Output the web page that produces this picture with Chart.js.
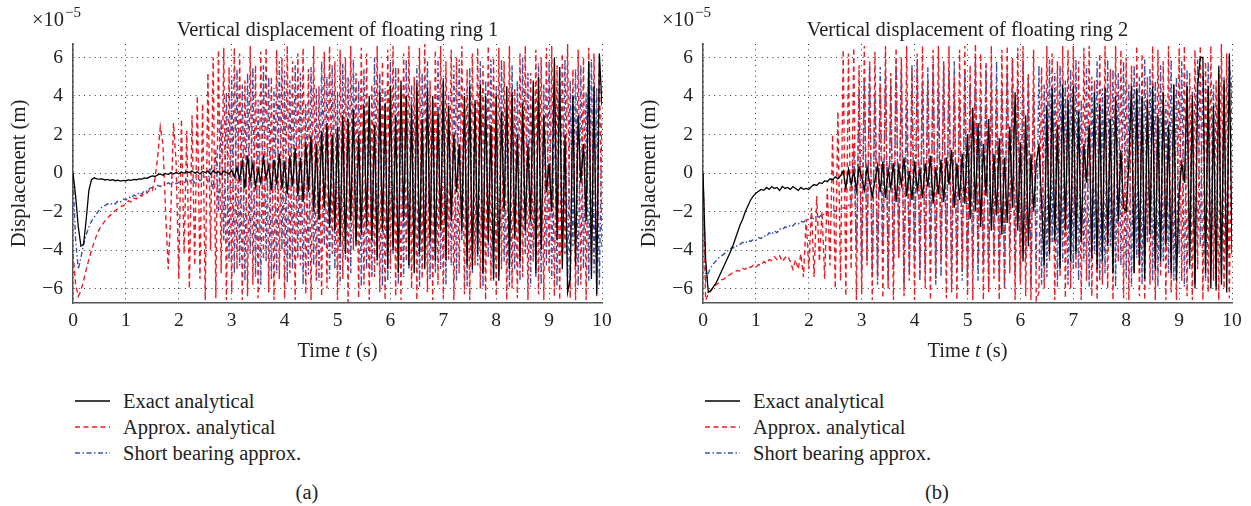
<!DOCTYPE html>
<html>
<head>
<meta charset="utf-8">
<script src="https://cdn.jsdelivr.net/npm/chart.js@4.4.0/dist/chart.umd.min.js"></script>
<style>
  body { margin: 0; background: #fff; }
  #page { position: relative; width: 1251px; height: 506px; overflow: hidden; font-family: "Liberation Serif", serif; color: #222; }
  canvas { position: absolute; top: 0; }
  .legend-row { position: absolute; height: 24px; line-height: 24px; font-size: 20.5px; white-space: nowrap; }
  .legend-row svg { position: absolute; left: 0; top: 0; }
  .legend-row span { position: absolute; left: 48px; top: 0; }
  .caption { position: absolute; font-size: 20.5px; line-height: 24px; transform: translateX(-50%); }
</style>
</head>
<body>
<div id="page">
  <canvas id="ring1" width="625" height="370" style="left:0px"></canvas>
  <canvas id="ring2" width="621" height="370" style="left:630px"></canvas>
</div>
<script>
// sampling step of the series (s)
const T_STEP = 0.05;
const xTicks = [0, 1, 2, 3, 4, 5, 6, 7, 8, 9, 10];
const yTicks = [-6, -4, -2, 0, 2, 4, 6];
const seriesNames = ["Exact analytical", "Approx. analytical", "Short bearing approx."];
const titles = ["Vertical displacement of floating ring 1", "Vertical displacement of floating ring 2"];
const captions = ["(a)", "(b)"];

// ring 1 (values x 1e-5 m), one row per second
const exact1 = [
  0, -1.2, -2.8, -3.8, -3.7, -2.4, -0.9, -0.35, -0.25, -0.3, -0.32, -0.3, -0.36, -0.33, -0.38, -0.35, -0.4, -0.37, -0.42, -0.38,
  -0.4, -0.36, -0.38, -0.33, -0.35, -0.3, -0.32, -0.26, -0.28, -0.2, -0.15, -0.18, -0.1, -0.05, -0.12, -0.02, -0.08, 0.02, -0.05, 0.03,
  -0.04, 0.05, 0, 0.08, 0.02, 0.1, 0, 0.06, -0.05, 0.08, 0.02, 0.1, -0.06, 0.12, 0, 0.08, -0.08, 0.1, 0.03, -0.05,
  0.15, -0.2, 0.3, -0.35, 0.6, -0.8, 0.9, -0.4, 0.5, -0.7, 0.2, -0.5, 0.8, -0.3, 0.4, -0.9, 0.7, -0.6, 1.0, -0.8,
  0.6, -1.1, 0.9, -0.7, 1.3, -1.2, 0.8, -1.5, 1.6, -1.0, 1.9, -2.0, 1.5, -2.4, 2.2, -1.8, 2.6, -2.8, 2.0, -3.0,
  2.4, -3.6, 3.0, -4.2, 2.8, -2.5, 3.3, -3.8, 2.0, -3.2, 3.5, -2.8, 4.0, -3.5, 2.5, -4.5, 4.2, -3.0, 3.6, -5.0,
  4.5, -4.0, 3.0, -5.2, 4.8, -2.5, 4.0, -4.8, 3.5, -5.2, 4.6, -4.2, 2.8, -5.0, 4.4, -3.6, 4.0, -4.6, 3.2, -3.0,
  4.8, -4.5, 3.5, -2.5, 2.0, -1.0, 1.5, -3.0, 4.0, -4.8, 4.5, -5.0, 3.8, -4.2, 4.6, -5.2, 4.0, -3.6, 2.5, -5.5,
  4.0, -5.6, 3.2, -2.0, 4.5, -5.0, 4.2, -3.4, 2.0, -4.6, 3.6, -3.0, 1.5, -2.5, 4.8, -5.2, 5.0, -4.0, 3.0, -1.0,
  0.5, -2.0, 6.0, -3.5, 5.5, -5.0, 2.0, -6.2, -5.5, 4.0, -4.8, 3.0, -0.5, 1.5, -2.5, 5.8, -5.5, 4.5, -6.3, 6.2,
  3.5
];
const approx1 = [
  -4.2, -5.8, -6.4, -6.1, -5.6, -5.0, -4.5, -4.0, -3.6, -3.2, -2.9, -2.7, -2.5, -2.35, -2.2, -2.1, -1.95, -1.85, -1.75, -1.7,
  -1.6, -1.45, -1.5, -1.3, -1.35, -1.15, -1.2, -1.0, -1.05, -0.85, -0.9, -0.3, 0.8, 2.4, 1.5, -2.0, -5.0, -2.0, 2.6, 0.5,
  -5.5, 2.8, -4.2, 2.2, -6.0, 3.0, -4.8, 4.0, -5.5, 3.6, -6.6, 5.2, -4.0, 6.0, -6.5, 6.4, -5.2, 6.5, -6.6, 5.5,
  -6.2, 6.5, -5.0, 6.2, -6.6, 4.8, -6.4, 6.6, -5.8, 5.6, -6.5, 6.3, -4.5, 6.5, -6.2, 5.0, -6.6, 6.4, -5.5, 6.0,
  -6.5, 6.6, -5.2, 5.8, -6.6, 6.2, -4.8, 6.5, -6.3, 5.4, -6.6, 6.6, -5.6, 4.5, -6.4, 6.3, -6.0, 6.6, -4.2, 5.8,
  -6.6, 6.4, -5.5, 6.0, -6.7, 6.6, -4.0, 5.2, -6.5, 6.5, -5.8, 6.2, -6.6, 4.6, -5.4, 6.6, -6.2, 5.8, -6.6, 6.4,
  -5.0, 6.6, -6.4, 5.5, -6.6, 6.2, -4.6, 6.6, -6.0, 5.0, -6.6, 6.5, -5.5, 6.7, -6.2, 4.8, -6.6, 6.4, -5.8, 6.6,
  -6.5, 5.8, -4.5, 6.4, -6.6, 6.0, -5.2, 6.6, -6.3, 5.4, -6.6, 6.2, -4.8, 6.5, -6.0, 5.6, -6.6, 6.6, -5.6, 6.0,
  -6.4, 6.5, -5.0, 5.8, -6.6, 6.6, -6.0, 4.4, -6.5, 6.2, -5.4, 6.6, -6.6, 5.2, -4.6, 6.4, -6.3, 6.0, -6.6, 6.5,
  -5.2, 6.6, -6.4, 5.6, -6.6, 6.2, -4.2, 6.7, -6.5, 5.4, -6.6, 6.4, -5.8, 6.0, -6.6, 6.5, -5.0, 6.2, -6.4, 5.8,
  -4.0
];
const short1 = [
  -0.3, -3.5, -5.0, -4.4, -3.7, -3.2, -2.8, -2.5, -2.3, -2.1, -1.9, -1.75, -1.7, -1.6, -1.65, -1.55, -1.6, -1.45, -1.5, -1.35,
  -1.4, -1.25, -1.3, -1.15, -1.2, -1.0, -1.1, -0.9, -0.95, -0.8, -0.75, -0.85, -0.65, -0.7, -0.6, -0.65, -0.5, -0.6, -0.45, -0.55,
  -0.5, -0.4, -0.55, -0.35, -0.45, -0.3, -0.5, -0.25, -0.4, -0.3, -0.2, -0.45, 0.3, -0.9, 1.2, -2.0, 2.8, -3.5, 4.2, -4.6,
  5.0, -5.2, 5.4, -4.8, 4.6, -5.6, 5.2, -4.2, 5.5, -5.4, 3.8, -5.8, 5.6, -4.6, 5.0, -5.5, 4.4, -5.2, 5.8, -4.0,
  5.3, -5.7, 4.8, -5.0, 5.6, -4.4, 5.2, -5.8, 3.6, -5.3, 5.5, -4.8, 4.4, -5.6, 5.8, -3.8, 5.0, -5.5, 5.6, -5.0,
  4.2, -5.8, 5.7, -4.5, 5.0, -5.2, 5.9, -3.6, 4.8, -5.9, 5.4, -5.0, 3.5, -5.4, 6.0, -4.8, 5.2, -5.9, 4.4, -5.6,
  5.8, -4.2, 5.5, -5.8, 4.0, -5.4, 5.9, -5.0, 4.6, -3.8, 5.6, -5.9, 5.2, -4.6, 5.8, -5.5, 3.8, -5.2, 6.0, -5.0,
  5.0, -5.8, 4.2, -4.8, 5.6, -5.6, 5.9, -3.5, 4.4, -5.9, 5.5, -5.2, 3.6, -4.8, 5.8, -5.9, 4.8, -4.4, 5.9, -5.6,
  4.5, -5.3, 5.9, -4.6, 3.4, -5.9, 5.6, -5.0, 4.8, -5.6, 6.0, -4.2, 5.2, -5.9, 4.0, -5.4, 5.7, -5.8, 4.6, -4.8,
  5.8, -5.5, 3.8, -5.9, 5.5, -4.4, 5.9, -5.8, 4.8, -3.8, 5.4, -5.9, 5.6, -5.0, 4.2, -5.6, 5.9, -5.2, 4.4, -5.8,
  3.0
];

// ring 2 (values x 1e-5 m)
const exact2 = [
  0, -4.5, -6.2, -6.1, -5.9, -5.7, -5.4, -5.1, -4.8, -4.5, -4.2, -3.9, -3.5, -3.1, -2.7, -2.4, -2.0, -1.7, -1.4, -1.2,
  -1.05, -0.95, -0.85, -0.9, -0.75, -0.85, -0.7, -0.8, -0.75, -0.9, -0.7, -0.8, -0.75, -0.85, -0.7, -0.8, -0.9, -0.75, -0.85, -0.8,
  -0.85, -0.7, -0.6, -0.65, -0.5, -0.55, -0.4, -0.45, -0.3, -0.35, -0.2, -0.3, -0.15, 0.1, -0.8, 0.2, -0.6, 0.1, -0.9, 0.3,
  -0.2, -0.9, 0.3, -0.5, -1.2, -0.4, 0.4, -1.0, 0.6, -1.3, 0.2, -0.8, 0.5, -1.5, 0.3, -0.6, 0.8, -1.2, 0.1, -1.4,
  0.6, -0.9, 0.2, -1.3, 0.5, -0.7, 0.9, -1.6, 0.3, -1.1, 0.7, -1.5, 0.8, -0.6, 1.2, -1.8, 0.5, -1.4, 1.0, -1.6,
  2.0, -2.4, 3.4, -2.0, 2.6, -2.8, 1.5, -1.2, 2.8, -3.0, 1.0, -2.2, 1.8, -3.2, 0.8, -2.6, 2.4, -1.8, 4.2, -3.0,
  1.6, -4.6, 3.0, -3.8, 1.0, -2.0, 0.5, 1.5, -1.5, -4.8, 3.5, -4.2, 4.4, -3.5, 2.5, -5.0, 4.6, -3.0, 3.8, -4.6,
  4.5, -4.2, 3.2, -3.6, 1.5, -0.5, 2.5, -4.4, 4.2, -5.0, 3.6, -4.6, 4.4, -3.8, 2.8, -5.2, 4.0, -2.5, 1.2, -1.8,
  -2.0, 0.5, 4.5, -5.2, 4.4, -4.8, 4.0, -5.5, 3.8, -3.2, 4.5, -5.0, 3.0, -4.6, 4.2, -3.8, 2.5, -5.2, 4.6, -5.6,
  -1.0, 0.5, -0.5, 4.5, -4.8, 4.0, -6.0, 4.5, 6.0, 6.0, -5.2, 4.5, -6.0, 3.5, -6.1, 5.5, -5.8, 4.8, -6.2, 6.2,
  -4.2
];
const approx2 = [
  0, -6.6, -6.3, -6.1, -5.9, -5.8, -5.7, -5.55, -5.5, -5.35, -5.3, -5.2, -5.15, -5.05, -5.1, -4.95, -5.0, -4.85, -4.9, -4.8,
  -4.9, -4.75, -4.8, -4.6, -4.7, -4.5, -4.55, -4.35, -4.5, -4.3, -4.6, -4.4, -4.3, -4.6, -5.0, -4.5, -5.0, -4.2, -5.4, -2.4,
  -5.0, -1.8, -5.4, -1.2, -4.6, -2.0, -5.5, -0.8, -4.8, 2.0, -6.0, 3.2, -5.6, 6.4, -6.4, 6.2, -5.0, 6.5, -6.6, 5.6,
  -6.3, 6.6, -4.8, 5.8, -6.6, 6.3, -5.4, 4.6, -6.5, 6.6, -6.0, 5.2, -6.6, 6.5, -4.4, 6.0, -6.4, 6.6, -5.6, 5.4,
  -6.6, 6.2, -5.2, 6.6, -6.0, 4.8, -6.6, 6.4, -5.5, 6.6, -4.6, 5.8, -6.5, 6.6, -6.2, 5.0, -6.6, 6.4, -5.0, 6.6,
  -6.4, 5.6, -6.6, 6.7, -4.8, 6.2, -6.6, 5.8, -6.2, 6.6, -5.5, 4.4, -6.6, 6.4, -6.0, 6.6, -5.2, 6.0, -6.6, 6.5,
  -5.8, 6.6, -6.4, 5.2, -6.6, 6.4, -6.6, -6.2, 5.5, -6.0, 6.6, -4.6, 6.2, -6.6, 5.8, -5.4, 6.6, -6.5, 6.4, -6.0,
  6.6, -5.0, 5.8, -6.6, 6.5, -5.6, 6.6, -6.4, 4.8, -6.6, 6.2, -5.8, 6.6, -6.0, 5.4, -6.6, 6.6, -4.6, 6.4, -6.5,
  6.0, -6.6, 5.6, -5.2, 6.6, -6.4, 6.2, -6.6, 5.0, -5.8, 6.6, -6.6, 6.4, -5.4, 5.8, -6.6, 6.6, -6.2, 4.6, -6.6,
  6.5, -5.6, 6.6, -6.4, 5.2, -6.6, 6.4, -5.0, 6.6, -6.6, 5.8, -6.2, 6.6, -5.6, 4.8, -6.6, 6.7, -6.0, 6.2, -6.5,
  5.0
];
const short2 = [
  0, -5.6, -5.2, -4.9, -4.7, -4.55, -4.4, -4.3, -4.2, -4.05, -4.0, -3.85, -3.9, -3.75, -3.7, -3.6, -3.65, -3.5, -3.55, -3.45,
  -3.5, -3.35, -3.4, -3.25, -3.3, -3.1, -3.2, -3.0, -3.1, -2.9, -2.95, -2.8, -2.85, -2.7, -2.75, -2.6, -2.65, -2.5, -2.55, -2.4,
  -2.45, -2.3, -2.4, -2.2, -2.3, -2.1, -2.2, -2.0, -2.1, -1.9, -2.0, -1.85, -1.9, -1.8, -1.85, -1.7, -1.5, 1.5, -4.0, 4.2,
  -5.2, 5.0, -4.6, 5.6, -5.4, 4.2, -5.8, 5.5, -3.8, 5.2, -5.6, 4.6, -5.0, 5.8, -4.4, 5.4, -5.8, 3.6, -5.2, 5.6,
  -4.6, 5.8, -5.6, 4.8, -5.0, 5.5, -3.8, 5.8, -5.8, 4.4, -5.4, 5.6, -4.2, 5.2, -5.9, 5.8, -4.8, 3.8, -5.6, 5.4,
  -5.8, 4.6, -5.0, 5.9, -5.6, 3.6, -4.8, 5.6, -5.9, 5.2, -4.2, 5.8, -5.4, 4.4, -5.9, 5.5, -3.8, 5.9, -5.2, 4.8,
  -5.6, 5.8, -4.4, 5.0, -5.9, 4.2, -5.0, 5.6, -5.8, 4.6, -5.4, 5.9, -3.6, 5.2, -5.9, 5.6, -4.6, 4.8, -5.8, 5.4,
  -5.0, 5.9, -5.6, 3.8, -4.6, 5.6, -5.9, 5.0, -4.2, 5.8, -5.6, 4.4, -5.2, 5.9, -3.8, 5.4, -5.9, 5.2, -4.8, 5.8,
  -5.4, 4.6, -5.9, 5.6, -4.4, 5.0, -5.8, 5.9, -3.6, 5.4, -5.6, 4.8, -5.9, 5.6, -4.6, 3.8, -5.2, 5.9, -5.6, 5.0,
  -4.2, 5.8, -5.9, 5.4, -5.0, 4.4, -5.8, 5.9, -3.8, 5.2, -5.6, 5.8, -4.8, 4.6, -5.9, 5.6, -5.4, 5.0, -4.4, 5.9,
  3.5
];

const FONT = '"Liberation Serif", "Times New Roman", serif';
const lineColors = ["#000000", "#ec1c24", "#3b52a8"];
const lineWidths = [1.3, 1.4, 1.4];
const lineDashes = [[], [5, 3.5], [5, 2.5, 1.5, 2.5]];

function toPoints(values) {
  return values.map((v, i) => ({ x: +(i * T_STEP).toFixed(2), y: v }));
}

const decorPlugin = {
  id: "decor",
  afterDraw(chart, args, opts) {
    const { ctx, chartArea } = chart;
    const cx = (chartArea.left + chartArea.right) / 2;
    ctx.save();
    ctx.fillStyle = "#222";
    // title
    ctx.font = "20.5px " + FONT;
    ctx.textAlign = "center";
    ctx.textBaseline = "alphabetic";
    ctx.fillText(opts.title, cx, 36);
    // exponent
    ctx.textAlign = "left";
    ctx.font = "20.5px " + FONT;
    ctx.fillText("\u00d710", chartArea.left - 41, 26);
    const w = ctx.measureText("\u00d710").width;
    ctx.font = "15px " + FONT;
    ctx.fillText("\u22125", chartArea.left - 41 + w + 1, 17);
    // x title with italic t
    ctx.font = "20.5px " + FONT;
    const a = "Time ", b = "t", c = " (s)";
    const wa = ctx.measureText(a).width, wc = ctx.measureText(c).width;
    ctx.font = "italic 20.5px " + FONT;
    const wb = ctx.measureText(b).width;
    const x0 = cx - (wa + wb + wc) / 2;
    const yb = 357;
    ctx.font = "20.5px " + FONT;
    ctx.fillText(a, x0, yb);
    ctx.font = "italic 20.5px " + FONT;
    ctx.fillText(b, x0 + wa, yb);
    ctx.font = "20.5px " + FONT;
    ctx.fillText(c, x0 + wa + wb, yb);
    // y title
    ctx.translate(chartArea.left - 53, (chartArea.top + chartArea.bottom) / 2);
    ctx.rotate(-Math.PI / 2);
    ctx.textAlign = "center";
    ctx.textBaseline = "middle";
    ctx.fillText("Displacement (m)", 0, 0);
    ctx.restore();
  }
};

function makeChart(id, title, series, padRight) {
  const gridOpts = { color: "#333", lineWidth: 1, drawTicks: false };
  const borderOpts = { display: true, color: "#555", width: 1.5, dash: [1, 4.3] };
  const tickFont = { family: FONT, size: 19.5 };
  return new Chart(document.getElementById(id), {
    type: "line",
    data: {
      datasets: series.map((vals, k) => ({
        label: seriesNames[k],
        data: toPoints(vals),
        borderColor: lineColors[k],
        borderWidth: lineWidths[k],
        borderDash: lineDashes[k],
        pointRadius: 0,
        tension: 0,
        fill: false
      }))
    },
    options: {
      responsive: false,
      animation: false,
      layout: { padding: { left: 33, right: padRight, top: 44, bottom: 37 } },
      plugins: { legend: { display: false }, tooltip: { enabled: false }, decor: { title: title } },
      scales: {
        x: {
          type: "linear", min: 0, max: 10,
          afterBuildTicks: (s) => { s.ticks = xTicks.map((v) => ({ value: v })); },
          afterFit: (s) => { s.height = 30; },
          ticks: { font: tickFont, color: "#222", padding: 6, maxRotation: 0, autoSkip: false },
          grid: gridOpts,
          border: borderOpts
        },
        y: {
          min: -6.75, max: 6.7,
          afterBuildTicks: (s) => { s.ticks = yTicks.map((v) => ({ value: v })); },
          afterFit: (s) => { s.width = 40; },
          ticks: {
            font: tickFont, color: "#222", padding: 10,
            callback: (v) => (v < 0 ? "\u2212" + Math.abs(v) : String(v))
          },
          grid: gridOpts,
          border: borderOpts
        }
      }
    },
    plugins: [decorPlugin]
  });
}

makeChart("ring1", titles[0], [exact1, approx1, short1], 23);
makeChart("ring2", titles[1], [exact2, approx2, short2], 19);

// legends and captions below each panel
const page = document.getElementById("page");
const legendLeft = [75, 705];
const legendTops = [389, 415, 441];
const captionX = [307, 937];
legendLeft.forEach((lx, p) => {
  seriesNames.forEach((name, k) => {
    const row = document.createElement("div");
    row.className = "legend-row";
    row.style.left = lx + "px";
    row.style.top = legendTops[k] + "px";
    const dash = lineDashes[k].length ? lineDashes[k].join(",") : "none";
    row.innerHTML =
      '<svg width="36" height="24"><line x1="0" y1="12" x2="35" y2="12" stroke="' + lineColors[k] +
      '" stroke-width="' + lineWidths[k] + '" stroke-dasharray="' + dash + '"/></svg><span>' + name + "</span>";
    page.appendChild(row);
  });
  const cap = document.createElement("div");
  cap.className = "caption";
  cap.style.left = captionX[p] + "px";
  cap.style.top = "480px";
  cap.textContent = captions[p];
  page.appendChild(cap);
});
</script>
</body>
</html>
